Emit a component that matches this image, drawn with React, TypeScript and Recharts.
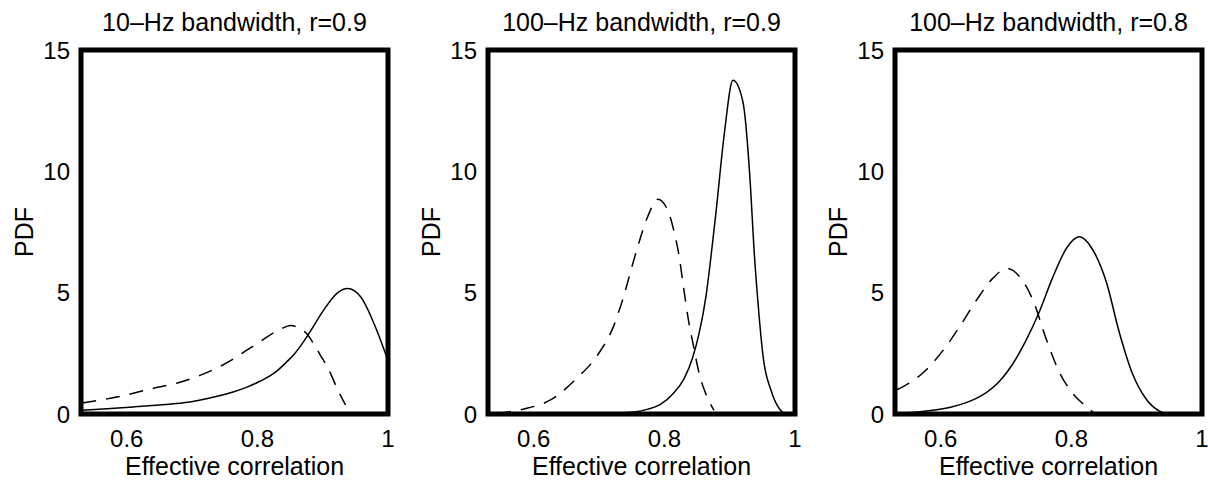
import { LineChart, Line, XAxis, YAxis, ReferenceArea } from 'recharts'

const FONT = '"Liberation Sans", Arial, Helvetica, sans-serif'

const X_TICKS = [0.6, 0.8, 1]
const Y_TICKS = [0, 5, 10, 15]
const X_MIN = 0.53
const X_MAX = 1
const Y_MAX = 15

const TITLES = ['10\u2013Hz bandwidth, r=0.9', '100\u2013Hz bandwidth, r=0.9', '100\u2013Hz bandwidth, r=0.8']

// panel 1: 10-Hz, r=0.9
const P1_SOLID_X = [0.532, 0.57, 0.61, 0.65, 0.687, 0.713, 0.74, 0.764, 0.785, 0.8, 0.818, 0.831, 0.845, 0.856, 0.87, 0.882, 0.902, 0.923, 0.938, 0.959, 0.979, 1.0]
const P1_SOLID_Y = [0.15, 0.22, 0.29, 0.37, 0.46, 0.58, 0.74, 0.92, 1.12, 1.3, 1.55, 1.8, 2.15, 2.45, 2.95, 3.45, 4.3, 5.0, 5.17, 4.8, 3.7, 2.2]
const P1_DASH_X = [0.532, 0.585, 0.647, 0.68, 0.713, 0.74, 0.764, 0.785, 0.805, 0.822, 0.836, 0.851, 0.866, 0.876, 0.886, 0.897, 0.908, 0.923, 0.935]
const P1_DASH_Y = [0.45, 0.7, 1.1, 1.3, 1.6, 1.92, 2.28, 2.65, 3.0, 3.3, 3.5, 3.65, 3.5, 3.3, 2.9, 2.4, 1.9, 1.0, 0.37]

// panel 2: 100-Hz, r=0.9
const P2_SOLID_X = [0.7, 0.753, 0.775, 0.794, 0.814, 0.83, 0.843, 0.853, 0.864, 0.871, 0.879, 0.892, 0.905, 0.92, 0.932, 0.937, 0.943, 0.952, 0.963, 0.974, 0.983, 1.0]
const P2_SOLID_Y = [0, 0.08, 0.2, 0.4, 0.86, 1.45, 2.3, 3.3, 4.9, 6.4, 8.3, 11.6, 13.75, 12.9, 9.3, 6.9, 4.7, 2.2, 1.0, 0.3, 0.05, 0]
const P2_DASH_X = [0.544, 0.584, 0.625, 0.667, 0.697, 0.722, 0.736, 0.756, 0.774, 0.79, 0.805, 0.815, 0.822, 0.83, 0.837, 0.845, 0.853, 0.863, 0.876]
const P2_DASH_Y = [0.03, 0.2, 0.57, 1.5, 2.4, 3.6, 4.7, 6.6, 8.1, 8.85, 8.4, 7.5, 6.6, 5.1, 3.85, 2.75, 1.7, 0.86, 0.15]

// panel 3: 100-Hz, r=0.8
const P3_SOLID_X = [0.533, 0.56, 0.588, 0.615, 0.64, 0.665, 0.69, 0.71, 0.73, 0.75, 0.771, 0.793, 0.812, 0.832, 0.854, 0.873, 0.893, 0.915, 0.935, 0.95, 1.0]
const P3_SOLID_Y = [0.03, 0.07, 0.15, 0.28, 0.48, 0.8, 1.35, 2.05, 3.0, 4.15, 5.6, 6.85, 7.3, 6.8, 5.4, 3.4, 1.7, 0.6, 0.12, 0, 0]
const P3_DASH_X = [0.533, 0.573, 0.603, 0.629, 0.655, 0.68, 0.701, 0.721, 0.741, 0.762, 0.782, 0.802, 0.823, 0.833]
const P3_DASH_Y = [1.0, 1.7, 2.6, 3.6, 4.7, 5.6, 6.0, 5.65, 4.7, 3.05, 1.7, 0.85, 0.3, 0.08]

const PANEL_LEFT = [1, 408, 815]

const Y_AXIS_W = 80
const PLOT_W = 307
const CHART_W = Y_AXIS_W + PLOT_W + 6
const CHART_H = 481
const TOP = 50
const X_AXIS_H = 67

function zip(xs: number[], ys: number[]) {
  return xs.map((x, i) => ({ x, y: ys[i] }))
}

const tick = { fill: '#000', fontSize: 24, fontFamily: FONT }

function fmtX(v: number) {
  return v === 1 ? '1' : v.toFixed(1)
}

function Panel({ title, solid, dashed, left }: any) {
  const cx = Y_AXIS_W + PLOT_W / 2
  const cy = TOP + (CHART_H - TOP - X_AXIS_H) / 2
  return (
    <div style={{ position: 'absolute', left, top: 0 }}>
      <LineChart width={CHART_W} height={CHART_H} margin={{ top: TOP, right: CHART_W - Y_AXIS_W - PLOT_W, left: 0, bottom: 0 }}>
        <XAxis
          type="number"
          dataKey="x"
          domain={[X_MIN, X_MAX]}
          ticks={X_TICKS}
          tickFormatter={fmtX}
          allowDataOverflow
          height={X_AXIS_H}
          axisLine={false}
          tickLine={false}
          tickSize={0}
          tickMargin={16}
          tick={tick}
        />
        <YAxis
          type="number"
          domain={[0, Y_MAX]}
          ticks={Y_TICKS}
          allowDataOverflow
          width={Y_AXIS_W}
          axisLine={false}
          tickLine={false}
          tickSize={0}
          tickMargin={11}
          tick={tick}
        />
        <Line data={dashed} dataKey="y" type="monotone" stroke="#000" strokeWidth={1.5}
          strokeDasharray="14 10" dot={false} activeDot={false} isAnimationActive={false} />
        <Line data={solid} dataKey="y" type="monotone" stroke="#000" strokeWidth={1.5}
          dot={false} activeDot={false} isAnimationActive={false} />
        <ReferenceArea x1={X_MIN} x2={X_MAX} y1={0} y2={Y_MAX} fill="none" stroke="#000" strokeWidth={5} ifOverflow="visible" />
        <text x={cx} y={31} textAnchor="middle" fontSize={25} fontFamily={FONT} fill="#000">{title}</text>
        <text x={cx} y={475} textAnchor="middle" fontSize={25} fontFamily={FONT} fill="#000">Effective correlation</text>
        <text x={32} y={cy} transform={`rotate(-90 32 ${cy})`} textAnchor="middle" fontSize={25} fontFamily={FONT} fill="#000">PDF</text>
      </LineChart>
    </div>
  )
}

export default function App() {
  return (
    <div style={{ position: 'absolute', left: 0, top: 0, width: 1208, height: 481, background: '#fff' }}>
      <Panel title={TITLES[0]} solid={zip(P1_SOLID_X, P1_SOLID_Y)} dashed={zip(P1_DASH_X, P1_DASH_Y)} left={PANEL_LEFT[0]} />
      <Panel title={TITLES[1]} solid={zip(P2_SOLID_X, P2_SOLID_Y)} dashed={zip(P2_DASH_X, P2_DASH_Y)} left={PANEL_LEFT[1]} />
      <Panel title={TITLES[2]} solid={zip(P3_SOLID_X, P3_SOLID_Y)} dashed={zip(P3_DASH_X, P3_DASH_Y)} left={PANEL_LEFT[2]} />
    </div>
  )
}
